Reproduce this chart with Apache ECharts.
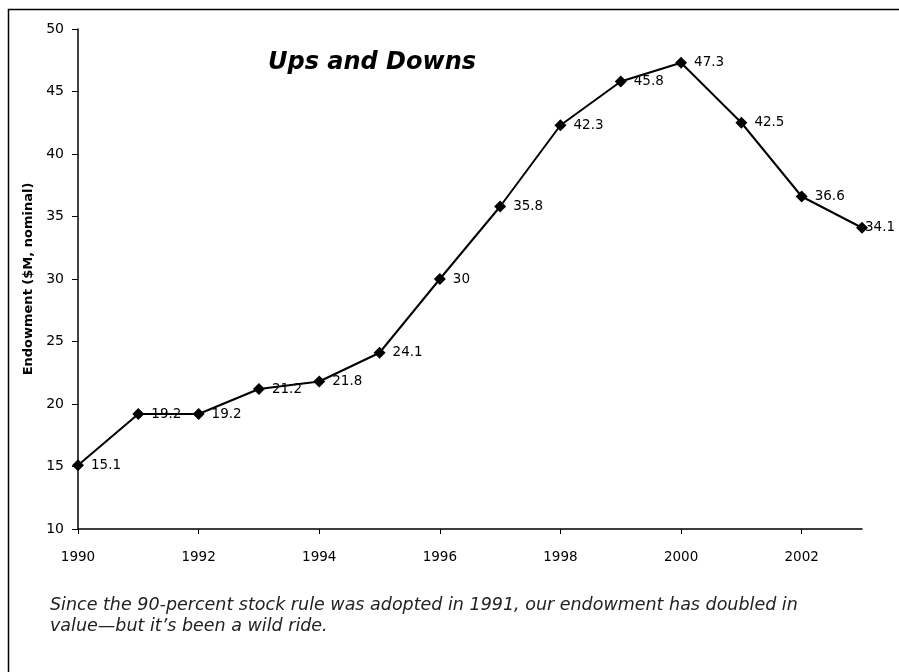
<!DOCTYPE html>
<html>
<head>
<meta charset="utf-8">
<script src="https://cdn.jsdelivr.net/npm/echarts@6/dist/echarts.min.js"></script>
<style>
html,body{margin:0;padding:0;background:#fff;}
#chart{width:899px;height:672px;}
</style>
</head>
<body>
<div id="chart"></div>
<script>
const years = [1990,1991,1992,1993,1994,1995,1996,1997,1998,1999,2000,2001,2002,2003];
const endowment = [15.1,19.2,19.2,21.2,21.8,24.1,30,35.8,42.3,45.8,47.3,42.5,36.6,34.1];
const xTicks = [1990,1992,1994,1996,1998,2000,2002];
const yTicks = [10,15,20,25,30,35,40,45,50];
const titleText = 'Ups and Downs';
const yAxisName = 'Endowment ($M, nominal)';
const captionLines = [
  'Since the 90-percent stock rule was adopted in 1991, our endowment has doubled in',
  'value\u2014but it\u2019s been a wild ride.'
];

const FONT = '"DejaVu Sans", sans-serif';
const chart = echarts.init(document.getElementById('chart'), null, {renderer:'canvas'});
const lastIdx = years.length - 1;
chart.setOption({
  backgroundColor:'#fff',
  animation:false,
  grid:{left:78,right:37,top:29,bottom:143,containLabel:false},
  xAxis:{
    type:'value',min:1990,max:2003,interval:2,
    axisLine:{show:true,lineStyle:{color:'#000',width:1.5}},
    axisTick:{show:true,length:5,inside:false,lineStyle:{color:'#000'},customValues:xTicks},
    axisLabel:{color:'#000',fontFamily:FONT,fontSize:13.5,margin:21,customValues:xTicks,formatter:v=>String(v)},
    splitLine:{show:false}
  },
  yAxis:{
    type:'value',min:10,max:50,interval:5,
    name:yAxisName,nameLocation:'middle',nameGap:43,nameRotate:90,
    nameTextStyle:{color:'#000',fontFamily:FONT,fontWeight:'bold',fontSize:13},
    axisLine:{show:true,lineStyle:{color:'#000',width:1.5}},
    axisTick:{show:true,length:6,lineStyle:{color:'#000'},customValues:yTicks},
    axisLabel:{color:'#000',fontFamily:FONT,fontSize:14,margin:14,customValues:yTicks},
    splitLine:{show:false}
  },
  title:{
    text:titleText,left:367,top:46,textAlign:'center',
    textStyle:{fontFamily:FONT,fontSize:24,fontWeight:'bold',fontStyle:'italic',color:'#000'}
  },
  series:[{
    type:'line',
    data:years.map((y,i)=> i === lastIdx
      ? {value:[y,endowment[i]],label:{distance:-3}}
      : [y,endowment[i]]),
    symbol:'diamond',symbolSize:12,
    lineStyle:{color:'#000',width:2},
    itemStyle:{color:'#000'},
    label:{show:true,position:'right',distance:7,color:'#000',fontFamily:FONT,fontSize:13.5,
      formatter:p=>String(p.value[1])}
  }],
  graphic:[
    {type:'polyline',shape:{points:[[8.5,672],[8.5,9.5],[899,9.5]]},style:{stroke:'#000',lineWidth:1.5,fill:null}},
    {type:'text',left:50,top:595,style:{text:captionLines.join('\n'),fontFamily:FONT,fontSize:17.5,fontStyle:'italic',fill:'#222',lineHeight:21}}
  ]
});
</script>
</body>
</html>
